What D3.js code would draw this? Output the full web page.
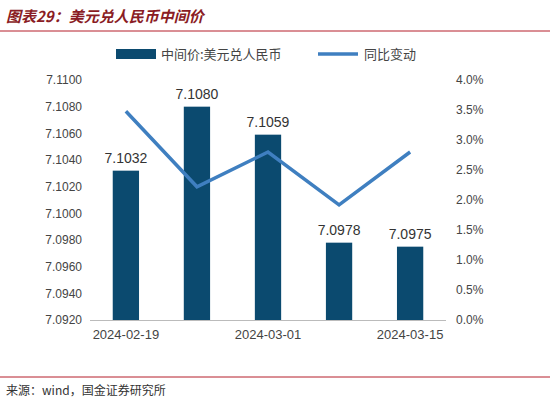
<!DOCTYPE html>
<html><head><meta charset="utf-8">
<script src="https://cdn.jsdelivr.net/npm/d3@7"></script>
<style>body{margin:0;background:#fff}</style>
</head><body><svg id="c" width="550" height="405"></svg>
<script>
const dates = ["2024-02-19", "2024-02-23", "2024-03-01", "2024-03-08", "2024-03-15"];
const midRate = [7.1032, 7.1080, 7.1059, 7.0978, 7.0975];
const yoy = [3.48, 2.22, 2.8, 1.92, 2.8];
const leftTicks = [7.092, 7.094, 7.096, 7.098, 7.100, 7.102, 7.104, 7.106, 7.108, 7.110];
const rightTicks = [0, 0.5, 1, 1.5, 2, 2.5, 3, 3.5, 4];

const svg = d3.select("#c");
const font = "'Noto Sans CJK SC', sans-serif";
const barColor = "#0b4a6f", lineColor = "#3f7fc0";

// title
svg.append("text").attr("x", 6).attr("y", 22).attr("font-family", font)
  .attr("font-size", 15).attr("font-weight", "bold").attr("font-style", "italic")
  .attr("fill", "#8a1c24").text("图表29：美元兑人民币中间价");
svg.append("line").attr("x1", 0).attr("x2", 550).attr("y1", 31).attr("y2", 31)
  .attr("stroke", "#b51e2a").attr("stroke-width", 1);

const x = d3.scaleBand().domain(dates).range([90, 446]).paddingInner(0.63).paddingOuter(0.32);
const yL = d3.scaleLinear().domain([7.092, 7.110]).range([320, 80]);
const yR = d3.scaleLinear().domain([0, 4]).range([320, 80]);

svg.append("g").attr("transform", "translate(90,0)")
  .call(d3.axisLeft(yL).tickValues(leftTicks).tickFormat(d3.format(".4f")).tickSize(0).tickPadding(8))
  .call(g => g.select(".domain").remove())
  .selectAll("text").attr("font-family", "Arial, 'Liberation Sans'").attr("font-size", 12).attr("fill", "#444");

svg.append("g").attr("transform", "translate(446,0)")
  .call(d3.axisRight(yR).tickValues(rightTicks).tickFormat(d => d.toFixed(1) + "%").tickSize(0).tickPadding(10))
  .call(g => g.select(".domain").remove())
  .selectAll("text").attr("font-family", "Arial, 'Liberation Sans'").attr("font-size", 12).attr("fill", "#444");

const xa = svg.append("g").attr("transform", "translate(0,320)")
  .call(d3.axisBottom(x).tickValues(dates.filter((d, i) => i % 2 === 0)).tickSize(0).tickPadding(10));
xa.select(".domain").attr("d", "M90,0.5H446").attr("stroke", "#bbb");
xa.selectAll("text").attr("font-family", "Arial, 'Liberation Sans'").attr("font-size", 13).attr("fill", "#444");

svg.selectAll(".bar").data(dates).enter().append("rect")
  .attr("x", d => x(d)).attr("width", x.bandwidth())
  .attr("y", (d, i) => yL(midRate[i])).attr("height", (d, i) => 320 - yL(midRate[i]))
  .attr("fill", barColor);

svg.selectAll(".lbl").data(dates).enter().append("text")
  .attr("x", d => x(d) + x.bandwidth() / 2).attr("y", (d, i) => yL(midRate[i]) - 8)
  .attr("text-anchor", "middle").attr("font-family", "Arial, 'Liberation Sans'")
  .attr("font-size", 14).attr("fill", "#333").text((d, i) => midRate[i].toFixed(4));

const line = d3.line().x((d, i) => x(dates[i]) + x.bandwidth() / 2).y(d => yR(d));
svg.append("path").datum(yoy).attr("d", line).attr("fill", "none")
  .attr("stroke", lineColor).attr("stroke-width", 3.5);

// legend
svg.append("rect").attr("x", 116).attr("y", 49).attr("width", 40).attr("height", 10).attr("fill", barColor);
svg.append("text").attr("x", 161).attr("y", 59).attr("font-family", font).attr("font-size", 13)
  .attr("fill", "#444").text("中间价:美元兑人民币");
svg.append("line").attr("x1", 318).attr("x2", 358).attr("y1", 54).attr("y2", 54)
  .attr("stroke", lineColor).attr("stroke-width", 3.5);
svg.append("text").attr("x", 364).attr("y", 59).attr("font-family", font).attr("font-size", 13)
  .attr("fill", "#444").text("同比变动");

// source
svg.append("line").attr("x1", 0).attr("x2", 550).attr("y1", 377).attr("y2", 377)
  .attr("stroke", "#b51e2a").attr("stroke-width", 1);
svg.append("text").attr("x", 6).attr("y", 395).attr("font-family", font).attr("font-size", 12)
  .attr("fill", "#333").text("来源：wind，国金证券研究所");
</script></body></html>
